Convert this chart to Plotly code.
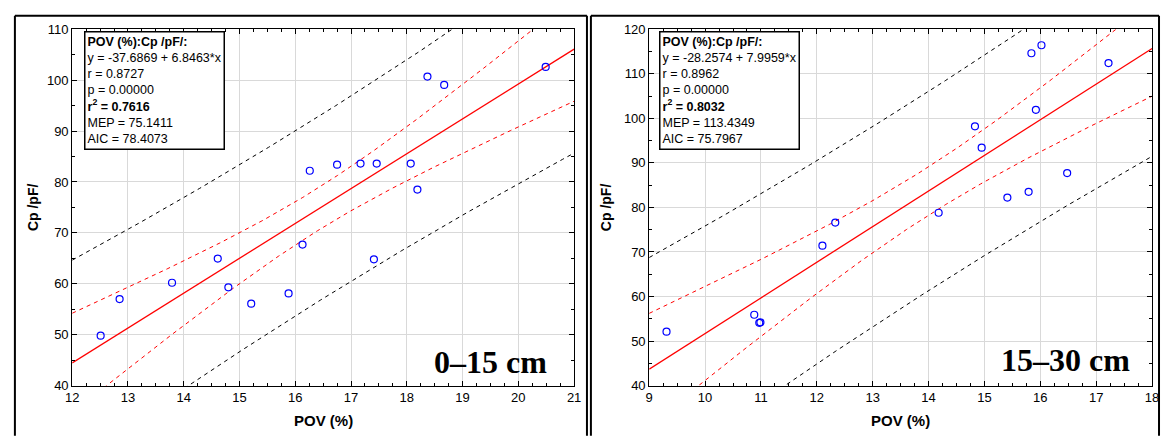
import numpy as np
import plotly.graph_objects as go

W, H = 1167, 439

# ---------------- data ----------------
pov_0_15 = [12.51, 12.85, 13.79, 14.61, 14.80, 15.21, 15.88, 16.13, 16.26, 16.75,
            17.17, 17.46, 17.41, 18.07, 18.19, 18.37, 18.67, 20.49]
cp_0_15 = [49.8, 57.0, 60.2, 64.95, 59.3, 56.1, 58.1, 67.7, 82.2, 83.4,
           83.6, 83.6, 64.8, 83.6, 78.5, 100.7, 99.05, 102.6]
fit_0_15 = (-37.6869, 6.8463)
stats_0_15 = ["y = -37.6869 + 6.8463*x", "r = 0.8727", "p = 0.00000",
              "r2 = 0.7616", "MEP = 75.1411", "AIC = 78.4073"]

pov_15_30 = [9.31, 10.88, 10.97, 10.99, 12.10, 12.33, 14.18, 14.83, 14.95, 15.41,
             15.79, 15.84, 15.92, 16.02, 16.48, 17.22]
cp_15_30 = [52.1, 55.9, 54.1, 54.2, 71.4, 76.6, 78.8, 98.2, 93.4, 82.2,
            83.5, 114.6, 101.9, 116.4, 87.7, 112.4]
fit_15_30 = (-28.2574, 7.9959)
stats_15_30 = ["y = -28.2574 + 7.9959*x", "r = 0.8962", "p = 0.00000",
               "r2 = 0.8032", "MEP = 113.4349", "AIC = 75.7967"]

labels = ["0–15 cm", "15–30 cm"]
x_ranges = [(12, 21), (9, 18)]
y_ranges = [(40, 110), (40, 120)]
x_title = "POV (%)"
y_title = "Cp /pF/"
box_title = "POV (%):Cp /pF/:"

T975 = {14: 2.1448, 15: 2.1314, 16: 2.1199}

# ---------------- layout helpers ----------------
def px(x):
    return x / W

def py(y):
    return 1 - y / H

panels = [
    dict(x0=66, x1=574, frame=(8, 587), box_x=78, lab_x=489, lab_y=368, ytit_x=27),
    dict(x0=650, x1=1159, frame=(591, 1166), box_x=660, lab_x=1071, lab_y=366, ytit_x=607),
]
Y_TOP, Y_BOT = 23, 392
SANS = "Liberation Sans, Arial"

fig = go.Figure()
datasets = [(pov_0_15, cp_0_15, fit_0_15, stats_0_15),
            (pov_15_30, cp_15_30, fit_15_30, stats_15_30)]

annotations = []
shapes = []
for i, ((xs, ys, (b0, b1), stats), p) in enumerate(zip(datasets, panels)):
    xa = "x" if i == 0 else "x2"
    ya = "y" if i == 0 else "y2"
    x = np.array(xs)
    y = np.array(ys)
    n = len(x)
    xm = x.mean()
    sxx = ((x - xm) ** 2).sum()
    resid = y - (b0 + b1 * x)
    s = np.sqrt((resid ** 2).sum() / (n - 2))
    t = T975[n - 2]
    lo, hi = x_ranges[i]
    g = np.linspace(lo, hi, 300)
    yf = b0 + b1 * g
    ci = t * s * np.sqrt(1 / n + (g - xm) ** 2 / sxx)
    pi = t * s * np.sqrt(1 + 1 / n + (g - xm) ** 2 / sxx)

    for yy in (yf + pi, yf - pi):
        fig.add_trace(go.Scatter(x=g, y=yy, mode="lines", xaxis=xa, yaxis=ya,
                                 line=dict(color="black", width=1, dash="4px,4px"),
                                 showlegend=False, hoverinfo="skip"))
    for yy in (yf + ci, yf - ci):
        fig.add_trace(go.Scatter(x=g, y=yy, mode="lines", xaxis=xa, yaxis=ya,
                                 line=dict(color="red", width=1, dash="4px,4px"),
                                 showlegend=False, hoverinfo="skip"))
    fig.add_trace(go.Scatter(x=g, y=yf, mode="lines", xaxis=xa, yaxis=ya,
                             line=dict(color="red", width=1.3),
                             showlegend=False, hoverinfo="skip"))
    fig.add_trace(go.Scatter(x=xs, y=ys, mode="markers", xaxis=xa, yaxis=ya,
                             marker=dict(symbol="circle-open", size=7, color="blue",
                                         line=dict(width=1.2, color="blue")),
                             showlegend=False))

    axis_common = dict(
        showline=True, linecolor="black", linewidth=1, mirror="allticks",
        ticks="inside", ticklen=5, tickcolor="black", tickwidth=1,
        showgrid=True, gridcolor="#d9d9d9", gridwidth=1, zeroline=False,
        tickfont=dict(family=SANS, size=13, color="black"),
    )
    xdom = [px(p["x0"]), px(p["x1"])]
    ydom = [py(Y_BOT), py(Y_TOP)]
    fig.update_layout(**{
        ("xaxis" if i == 0 else "xaxis2"): dict(
            axis_common, domain=xdom, range=list(x_ranges[i]), dtick=1,
            anchor=ya, minor=dict(dtick=0.25, ticks="inside", ticklen=3,
                                  tickcolor="black", showgrid=False)),
        ("yaxis" if i == 0 else "yaxis2"): dict(
            axis_common, domain=ydom, range=list(y_ranges[i]), dtick=10,
            anchor=xa, minor=dict(dtick=5, ticks="inside", ticklen=3,
                                  tickcolor="black", showgrid=False)),
    })

    # stats box
    lines = [f"<b>{box_title}</b>"]
    for sline in stats:
        if sline.startswith("r2"):
            lines.append("<b>r<sup>2</sup>" + sline[2:] + "</b>")
        else:
            lines.append(sline)
    annotations.append(dict(
        text="<br>".join(lines), xref="paper", yref="paper",
        x=px(p["box_x"]), y=py(25), xanchor="left", yanchor="top",
        align="left", showarrow=False, bgcolor="white", bordercolor="black",
        borderwidth=1.5, borderpad=2,
        font=dict(family=SANS, size=12.5, color="black")))
    # depth label
    annotations.append(dict(
        text=f"<b>{labels[i]}</b>", xref="paper", yref="paper",
        x=px(p["lab_x"]), y=py(p["lab_y"]), xanchor="center", yanchor="middle",
        showarrow=False,
        font=dict(family="Liberation Serif, Times New Roman", size=32, color="black")))
    # axis titles
    annotations.append(dict(
        text=f"<b>{x_title}</b>", xref="paper", yref="paper",
        x=px((p["x0"] + p["x1"]) / 2), y=py(428), xanchor="center", yanchor="middle",
        showarrow=False, font=dict(family=SANS, size=15, color="black")))
    annotations.append(dict(
        text=f"<b>{y_title}</b>", xref="paper", yref="paper", textangle=-90,
        x=px(p["ytit_x"]), y=py((Y_TOP + Y_BOT) / 2), xanchor="center", yanchor="middle",
        showarrow=False, font=dict(family=SANS, size=14, color="black")))

    # panel frame
    fl, fr = p["frame"]
    for (ax0, ay0, ax1, ay1) in [(fl, 9, fr, 9), (fl, 9, fl, H + 5), (fr, 9, fr, H + 5)]:
        shapes.append(dict(type="line", xref="paper", yref="paper",
                           x0=px(ax0), y0=py(ay0), x1=px(ax1), y1=py(ay1),
                           line=dict(color="black", width=2)))

fig.update_layout(
    width=W, height=H, margin=dict(l=0, r=0, t=0, b=0),
    paper_bgcolor="white", plot_bgcolor="white",
    annotations=annotations, shapes=shapes, showlegend=False,
)

fig.write_html(
    "out.html",
    config={"responsive": False, "displayModeBar": False},
    post_script="document.body.style.margin='0';document.body.style.overflow='hidden';",
)
